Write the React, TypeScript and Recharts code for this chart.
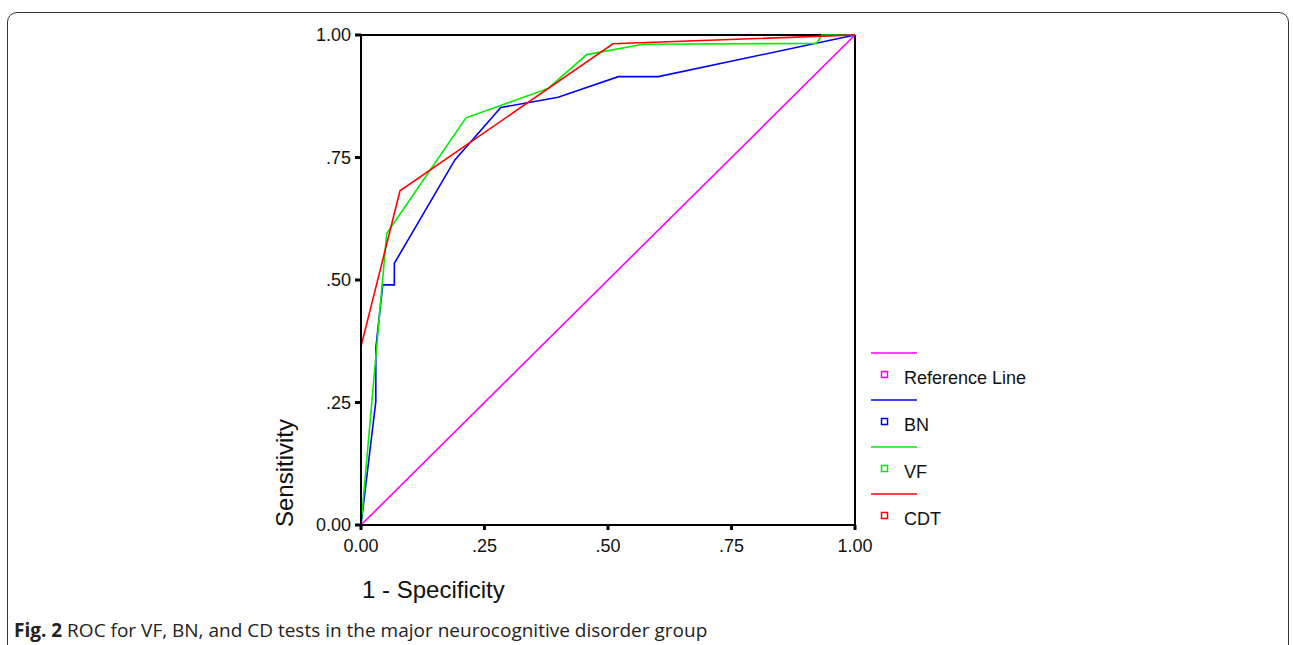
import { LineChart, Line, XAxis, YAxis, ReferenceLine, Label } from 'recharts';

// ROC coordinates (1 - specificity, sensitivity)
const refFpr = [0, 1];
const refTpr = [0, 1];

const bnFpr = [0, 0.03, 0.03, 0.044, 0.0675, 0.0675, 0.19, 0.283, 0.399, 0.521, 0.602, 1];
const bnTpr = [0, 0.252, 0.361, 0.49, 0.49, 0.534, 0.745, 0.852, 0.873, 0.915, 0.915, 1];

const vfFpr = [0, 0.052, 0.2125, 0.379, 0.457, 0.571, 0.922, 0.933, 1];
const vfTpr = [0, 0.595, 0.831, 0.891, 0.96, 0.981, 0.983, 1, 1];

const cdtFpr = [0, 0, 0.079, 0.51, 1];
const cdtTpr = [0, 0.364, 0.682, 0.982, 1];

const axisTicks = [0, 0.25, 0.5, 0.75, 1];
const tickLabels = ['0.00', '.25', '.50', '.75', '1.00'];

const seriesNames = ['Reference Line', 'BN', 'VF', 'CDT'];
const COLORS = ['#ff00ff', '#0000ff', '#00ee00', '#ff0000'];

const toPoints = (xs: number[], ys: number[]) => xs.map((x, i) => ({ x, y: ys[i] }));

const series = [
  toPoints(refFpr, refTpr),
  toPoints(bnFpr, bnTpr),
  toPoints(vfFpr, vfTpr),
  toPoints(cdtFpr, cdtTpr),
];

const FONT = 'Arial, "Liberation Sans", sans-serif';

function fmtTick(v: number) {
  const i = axisTicks.indexOf(v);
  return i >= 0 ? tickLabels[i] : String(v);
}

function RocLegend() {
  return (
    <svg width={200} height={190}>
      {seriesNames.map((name, i) => {
        const top = i * 47;
        return (
          <g key={name}>
            <line x1={1} x2={47} y1={top + 8} y2={top + 8} stroke={COLORS[i]} strokeWidth={1.5} />
            <rect x={11.5} y={top + 26.5} width={6} height={6} fill="none" stroke={COLORS[i]} strokeWidth={1.5} />
            <text x={34} y={top + 39} fontSize={18} fontFamily={FONT} fill="#111">
              {name}
            </text>
          </g>
        );
      })}
    </svg>
  );
}

export default function App() {
  return (
    <div style={{ position: 'absolute', left: 0, top: 0, width: 1293, height: 645, background: '#fff', overflow: 'hidden' }}>
      <div
        style={{
          position: 'absolute',
          left: 7,
          top: 12,
          width: 1282,
          height: 700,
          border: '1px solid #333',
          borderRadius: 10,
          boxSizing: 'border-box',
        }}
      />
      <div style={{ position: 'absolute', left: 0, top: 0 }}>
        <LineChart width={1293} height={645} margin={{ top: 35, left: 301, right: 438, bottom: 90 }}>
          <XAxis
            type="number"
            dataKey="x"
            domain={[0, 1]}
            ticks={axisTicks}
            tickFormatter={fmtTick}
            height={30}
            axisLine={{ stroke: '#000', strokeWidth: 2 }}
            tickLine={{ stroke: '#000', strokeWidth: 3 }}
            tickSize={5}
            tickMargin={9}
            tick={{ fill: '#111', fontSize: 18, fontFamily: FONT }}
          >
            <Label
              content={(props: any) => (
                <text x={props.viewBox.x + 1} y={props.viewBox.y + 73} fontSize={24} fontFamily={FONT} fill="#111">
                  1 - Specificity
                </text>
              )}
            />
          </XAxis>
          <YAxis
            type="number"
            dataKey="y"
            domain={[0, 1]}
            ticks={axisTicks}
            tickFormatter={fmtTick}
            width={60}
            axisLine={{ stroke: '#000', strokeWidth: 2 }}
            tickLine={{ stroke: '#000', strokeWidth: 3 }}
            tickSize={6}
            tickMargin={4}
            tick={{ fill: '#111', fontSize: 18, fontFamily: FONT }}
          >
            <Label
              content={(props: any) => {
                const cx = props.viewBox.x - 17;
                const cy = props.viewBox.y + props.viewBox.height - 52;
                return (
                  <text
                    x={cx}
                    y={cy}
                    transform={`rotate(-90 ${cx} ${cy})`}
                    textAnchor="middle"
                    dominantBaseline="central"
                    fontSize={24}
                    fontFamily={FONT}
                    fill="#111"
                  >
                    Sensitivity
                  </text>
                );
              }}
            />
          </YAxis>
          <ReferenceLine y={1} stroke="#000" strokeWidth={2} />
          <ReferenceLine x={1} stroke="#000" strokeWidth={2} />
          {series.map((pts, i) => (
            <Line
              key={seriesNames[i]}
              data={pts}
              dataKey="y"
              name={seriesNames[i]}
              type="linear"
              stroke={COLORS[i]}
              strokeWidth={1.6}
              dot={false}
              activeDot={false}
              isAnimationActive={false}
            />
          ))}
        </LineChart>
      </div>
      <div style={{ position: 'absolute', left: 870, top: 345 }}>
        <RocLegend />
      </div>
      <div
        style={{
          position: 'absolute',
          left: 14,
          top: 617,
          fontFamily: '"Open Sans", sans-serif',
          fontSize: 19,
          color: '#222',
          whiteSpace: 'nowrap',
        }}
      >
        <b>Fig. 2</b> ROC for VF, BN, and CD tests in the major neurocognitive disorder group
      </div>
    </div>
  );
}
